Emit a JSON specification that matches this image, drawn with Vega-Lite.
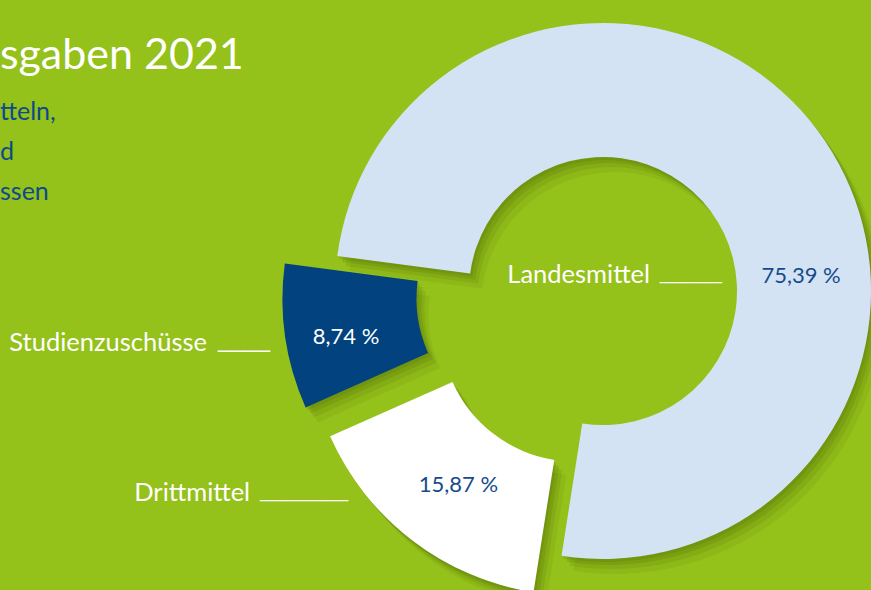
{
  "$schema": "https://vega.github.io/schema/vega-lite/v6.json",
  "width": 1206,
  "height": 582,
  "autosize": {"type": "none"},
  "padding": {"left": 0, "top": 0, "right": 0, "bottom": 8},
  "background": "#94c11a",
  "config": {"view": {"stroke": null}, "font": "Lato"},
  "title": {
    "text": "sgaben 2021",
    "subtitle": ["tteln,", "d", "ssen"],
    "anchor": "start",
    "frame": "group",
    "orient": "top",
    "offset": -205,
    "font": "Lato",
    "fontSize": 43,
    "fontWeight": "normal",
    "color": "#ffffff",
    "subtitleFont": "Lato",
    "subtitleFontSize": 25,
    "subtitleFontWeight": "normal",
    "subtitleColor": "#0d4a8b",
    "subtitleLineHeight": 40,
    "subtitlePadding": 22
  },
  "data": {
    "values": [
      {"Kategorie": "Landesmittel", "Anteil": 75.39, "Label": "75,39 %", "Reihenfolge": 1},
      {"Kategorie": "Drittmittel", "Anteil": 15.87, "Label": "15,87 %", "Reihenfolge": 2},
      {"Kategorie": "Studienzuschüsse", "Anteil": 8.74, "Label": "8,74 %", "Reihenfolge": 3}
    ]
  },
  "transform": [
    {"stack": "Anteil", "groupby": [], "sort": [{"field": "Reihenfolge", "order": "ascending"}], "as": ["a0", "a1"]}
  ],
  "encoding": {
    "theta": {"field": "a0", "type": "quantitative", "stack": null, "scale": {"domain": [0, 100], "range": [4.8433, 11.1265]}}
  },
  "layer": [
    {"transform": [{"filter": "datum.Kategorie === 'Landesmittel'"}], "mark": {"type": "arc", "innerRadius": 134, "outerRadius": 268, "color": "#3d5503", "opacity": 0.08, "xOffset": 12, "yOffset": 15}, "encoding": {"theta2": {"field": "a1"}}},
    {"transform": [{"filter": "datum.Kategorie === 'Landesmittel'"}], "mark": {"type": "arc", "innerRadius": 134, "outerRadius": 268, "color": "#3d5503", "opacity": 0.11, "xOffset": 8, "yOffset": 10}, "encoding": {"theta2": {"field": "a1"}}},
    {"transform": [{"filter": "datum.Kategorie === 'Landesmittel'"}], "mark": {"type": "arc", "innerRadius": 134, "outerRadius": 268, "color": "#3d5503", "opacity": 0.13, "xOffset": 5, "yOffset": 6}, "encoding": {"theta2": {"field": "a1"}}},
    {"transform": [{"filter": "datum.Kategorie === 'Landesmittel'"}], "mark": {"type": "arc", "innerRadius": 134, "outerRadius": 268, "color": "#3d5503", "opacity": 0.14, "xOffset": 2, "yOffset": 3}, "encoding": {"theta2": {"field": "a1"}}},
    {"transform": [{"filter": "datum.Kategorie === 'Drittmittel'"}], "mark": {"type": "arc", "innerRadius": 134, "outerRadius": 268, "color": "#3d5503", "opacity": 0.08, "xOffset": -16, "yOffset": 51.5}, "encoding": {"theta2": {"field": "a1"}}},
    {"transform": [{"filter": "datum.Kategorie === 'Drittmittel'"}], "mark": {"type": "arc", "innerRadius": 134, "outerRadius": 268, "color": "#3d5503", "opacity": 0.11, "xOffset": -20, "yOffset": 46.5}, "encoding": {"theta2": {"field": "a1"}}},
    {"transform": [{"filter": "datum.Kategorie === 'Drittmittel'"}], "mark": {"type": "arc", "innerRadius": 134, "outerRadius": 268, "color": "#3d5503", "opacity": 0.13, "xOffset": -23, "yOffset": 42.5}, "encoding": {"theta2": {"field": "a1"}}},
    {"transform": [{"filter": "datum.Kategorie === 'Drittmittel'"}], "mark": {"type": "arc", "innerRadius": 134, "outerRadius": 268, "color": "#3d5503", "opacity": 0.14, "xOffset": -26, "yOffset": 39.5}, "encoding": {"theta2": {"field": "a1"}}},
    {"transform": [{"filter": "datum.Kategorie === 'Studienzuschüsse'"}], "mark": {"type": "arc", "innerRadius": 134, "outerRadius": 268, "color": "#3d5503", "opacity": 0.08, "xOffset": -40.5, "yOffset": 22.6}, "encoding": {"theta2": {"field": "a1"}}},
    {"transform": [{"filter": "datum.Kategorie === 'Studienzuschüsse'"}], "mark": {"type": "arc", "innerRadius": 134, "outerRadius": 268, "color": "#3d5503", "opacity": 0.11, "xOffset": -44.5, "yOffset": 17.6}, "encoding": {"theta2": {"field": "a1"}}},
    {"transform": [{"filter": "datum.Kategorie === 'Studienzuschüsse'"}], "mark": {"type": "arc", "innerRadius": 134, "outerRadius": 268, "color": "#3d5503", "opacity": 0.13, "xOffset": -47.5, "yOffset": 13.6}, "encoding": {"theta2": {"field": "a1"}}},
    {"transform": [{"filter": "datum.Kategorie === 'Studienzuschüsse'"}], "mark": {"type": "arc", "innerRadius": 134, "outerRadius": 268, "color": "#3d5503", "opacity": 0.14, "xOffset": -50.5, "yOffset": 10.6}, "encoding": {"theta2": {"field": "a1"}}},
    {"transform": [{"filter": "datum.Kategorie === 'Landesmittel'"}], "mark": {"type": "arc", "innerRadius": 134, "outerRadius": 268, "color": "#d3e3f3"}, "encoding": {"theta2": {"field": "a1"}}},
    {"transform": [{"filter": "datum.Kategorie === 'Drittmittel'"}], "mark": {"type": "arc", "innerRadius": 134, "outerRadius": 268, "color": "#ffffff", "xOffset": -28, "yOffset": 36.5}, "encoding": {"theta2": {"field": "a1"}}},
    {"transform": [{"filter": "datum.Kategorie === 'Studienzuschüsse'"}], "mark": {"type": "arc", "innerRadius": 134, "outerRadius": 268, "color": "#01427f", "xOffset": -52.5, "yOffset": 7.6}, "encoding": {"theta2": {"field": "a1"}}},
    {"transform": [{"filter": "datum.Kategorie === 'Landesmittel'"}], "mark": {"type": "text", "radius": 119.3, "thetaOffset": 2.944, "align": "right", "baseline": "alphabetic", "dx": -72, "fontSize": 25.5, "font": "Lato", "color": "#ffffff"}, "encoding": {"text": {"field": "Kategorie"}}},
    {"transform": [{"filter": "datum.Kategorie === 'Landesmittel'"}], "mark": {"type": "text", "radius": 119.3, "thetaOffset": 2.944, "align": "right", "baseline": "alphabetic", "dy": -4, "fontSize": 22.3, "font": "Liberation Sans", "color": "#ffffff"}, "encoding": {"text": {"value": "_____"}}},
    {"transform": [{"filter": "datum.Kategorie === 'Landesmittel'"}], "mark": {"type": "text", "radius": 198.2, "thetaOffset": 2.971, "align": "center", "baseline": "alphabetic", "fontSize": 22, "font": "Lato", "color": "#164b8b"}, "encoding": {"text": {"field": "Label"}}},
    {"transform": [{"filter": "datum.Kategorie === 'Studienzuschüsse'"}], "mark": {"type": "text", "radius": 338.4, "thetaOffset": 0.2402, "align": "right", "baseline": "alphabetic", "dx": -63, "fontSize": 25.5, "font": "Lato", "color": "#ffffff"}, "encoding": {"text": {"field": "Kategorie"}}},
    {"transform": [{"filter": "datum.Kategorie === 'Studienzuschüsse'"}], "mark": {"type": "text", "radius": 338.4, "thetaOffset": 0.2402, "align": "right", "baseline": "alphabetic", "dy": -4, "fontSize": 23.4, "font": "Liberation Sans", "color": "#ffffff"}, "encoding": {"text": {"value": "____"}}},
    {"transform": [{"filter": "datum.Kategorie === 'Studienzuschüsse'"}], "mark": {"type": "text", "radius": 262.4, "thetaOffset": 0.2149, "align": "center", "baseline": "alphabetic", "fontSize": 22, "font": "Lato", "color": "#ffffff"}, "encoding": {"text": {"field": "Label"}}},
    {"transform": [{"filter": "datum.Kategorie === 'Drittmittel'"}], "mark": {"type": "text", "radius": 330.3, "thetaOffset": 0.726, "align": "right", "baseline": "alphabetic", "dx": -98, "fontSize": 25.5, "font": "Lato", "color": "#ffffff"}, "encoding": {"text": {"field": "Kategorie"}}},
    {"transform": [{"filter": "datum.Kategorie === 'Drittmittel'"}], "mark": {"type": "text", "radius": 330.3, "thetaOffset": 0.726, "align": "right", "baseline": "alphabetic", "dy": -4, "fontSize": 22.6, "font": "Liberation Sans", "color": "#ffffff"}, "encoding": {"text": {"value": "_______"}}},
    {"transform": [{"filter": "datum.Kategorie === 'Drittmittel'"}], "mark": {"type": "text", "radius": 247.3, "thetaOffset": 0.4686, "align": "center", "baseline": "alphabetic", "fontSize": 22, "font": "Lato", "color": "#164b8b"}, "encoding": {"text": {"field": "Label"}}}
  ]
}
